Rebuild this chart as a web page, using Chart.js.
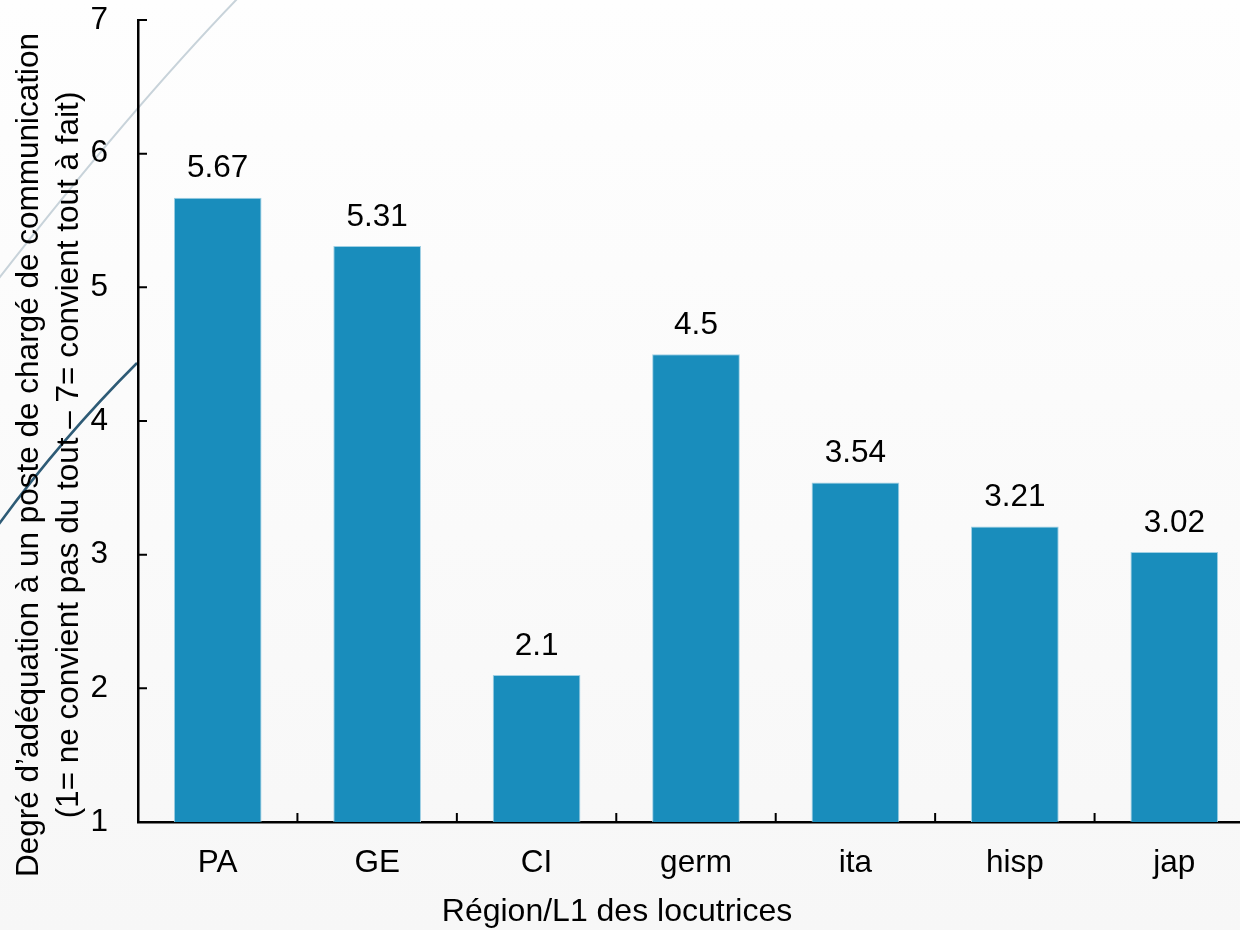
<!DOCTYPE html>
<html>
<head>
<meta charset="utf-8">
<script src="https://cdn.jsdelivr.net/npm/chart.js@4"></script>
<style>
    html, body { margin: 0; padding: 0; background: #f9f9f9; }
    #wrap { width: 1240px; height: 930px; overflow: hidden; position: relative; }
    #barChart { display: block; }
</style>
</head>
<body>
<div id="wrap"><canvas id="barChart" width="1256" height="930"></canvas></div>
<script>
const categories = ["PA", "GE", "CI", "germ", "ita", "hisp", "jap"];
const scores = [5.67, 5.31, 2.1, 4.5, 3.54, 3.21, 3.02];
const yTicks = [1, 2, 3, 4, 5, 6, 7];
const xTitle = "Région/L1 des locutrices";
const yTitle = [
    "Degré d’adéquation à un poste de chargé de communication",
    "(1= ne convient pas du tout – 7= convient tout à fait)"
];

const fontFamily = "'Liberation Sans', Arial, sans-serif";

// slide background with the two decorative strokes on the left
const background = {
    id: "background",
    beforeDraw(chart) {
        const ctx = chart.ctx;
        ctx.save();
        const g = ctx.createLinearGradient(0, 0, 0, chart.height);
        g.addColorStop(0, "#fefefe");
        g.addColorStop(1, "#f7f7f7");
        ctx.fillStyle = g;
        ctx.fillRect(0, 0, chart.width, chart.height);

        ctx.strokeStyle = "#c8d3da";
        ctx.lineWidth = 2;
        ctx.beginPath();
        ctx.moveTo(238, -2);
        ctx.quadraticCurveTo(130, 110, -4, 282);
        ctx.stroke();

        ctx.strokeStyle = "#2e5b76";
        ctx.lineWidth = 2.5;
        ctx.beginPath();
        ctx.moveTo(137, 363);
        ctx.quadraticCurveTo(60, 440, -4, 528);
        ctx.stroke();
        ctx.restore();
    }
};

// inward tick marks, value labels and axis titles
const decorations = {
    id: "decorations",
    afterDatasetsDraw(chart) {
        const ctx = chart.ctx;
        ctx.save();
        ctx.fillStyle = "#000";
        ctx.font = "31.5px " + fontFamily;
        ctx.textAlign = "center";
        ctx.textBaseline = "middle";
        chart.getDatasetMeta(0).data.forEach((bar, i) => {
            ctx.fillText(String(scores[i]), bar.x, bar.y - 29);
        });
        ctx.restore();
    },
    afterDraw(chart) {
        const ctx = chart.ctx;
        const x = chart.scales.x;
        const y = chart.scales.y;
        ctx.save();
        ctx.strokeStyle = "#000";
        ctx.lineWidth = 2;
        ctx.beginPath();
        yTicks.forEach(v => {
            const py = y.getPixelForValue(v);
            ctx.moveTo(x.left, py);
            ctx.lineTo(x.left + 9, py);
        });
        const band = x.width / categories.length;
        for (let i = 0; i <= categories.length; i++) {
            const px = x.left + i * band;
            ctx.moveTo(px, y.bottom);
            ctx.lineTo(px, y.bottom - 9);
        }
        ctx.stroke();

        ctx.fillStyle = "#000";
        ctx.textAlign = "center";
        ctx.textBaseline = "middle";
        ctx.font = "32px " + fontFamily;
        ctx.fillText(xTitle, 617, 912);

        ctx.font = "31.5px " + fontFamily;
        ctx.translate(0, 455);
        ctx.rotate(-Math.PI / 2);
        yTitle.forEach((line, i) => {
            ctx.fillText(line, 0, 29 + i * 40);
        });
        ctx.restore();
    }
};

const bar = document.getElementById("barChart").getContext("2d");
new Chart(bar, {
    type: "bar",
    data: {
        labels: categories,
        datasets: [
            {
                label: "Degré d’adéquation",
                data: scores,
                backgroundColor: "#198dbc",
                borderColor: "#9fd0e4",
                borderWidth: 1,
                barPercentage: 0.55,
                categoryPercentage: 1.0,
            },
        ],
    },
    options: {
        responsive: false,
        animation: false,
        layout: { autoPadding: false, padding: { top: 20, right: 2, left: 0, bottom: 0 } },
        plugins: {
            legend: { display: false },
            tooltip: { enabled: false },
        },
        scales: {
            x: {
                grid: { display: true, drawOnChartArea: false, drawTicks: true, tickLength: 22, tickColor: "rgba(0,0,0,0)" },
                border: { color: "#000", width: 2.5 },
                ticks: {
                    color: "#000",
                    font: { family: fontFamily, size: 31.5 },
                    padding: 0,
                    maxRotation: 0,
                },
                afterFit(scale) { scale.height = 108; },
            },
            y: {
                min: 1,
                max: 7,
                grid: { display: true, drawOnChartArea: false, drawTicks: true, tickLength: 30, tickColor: "rgba(0,0,0,0)" },
                border: { color: "#000", width: 2.5 },
                ticks: {
                    color: "#000",
                    font: { family: fontFamily, size: 31.5 },
                    padding: 0,
                    stepSize: 1,
                },
                afterBuildTicks(scale) { scale.ticks = yTicks.map(v => ({ value: v })); },
                afterFit(scale) { scale.width = 138; },
            },
        },
    },
    plugins: [background, decorations],
});
</script>
</body>
</html>
